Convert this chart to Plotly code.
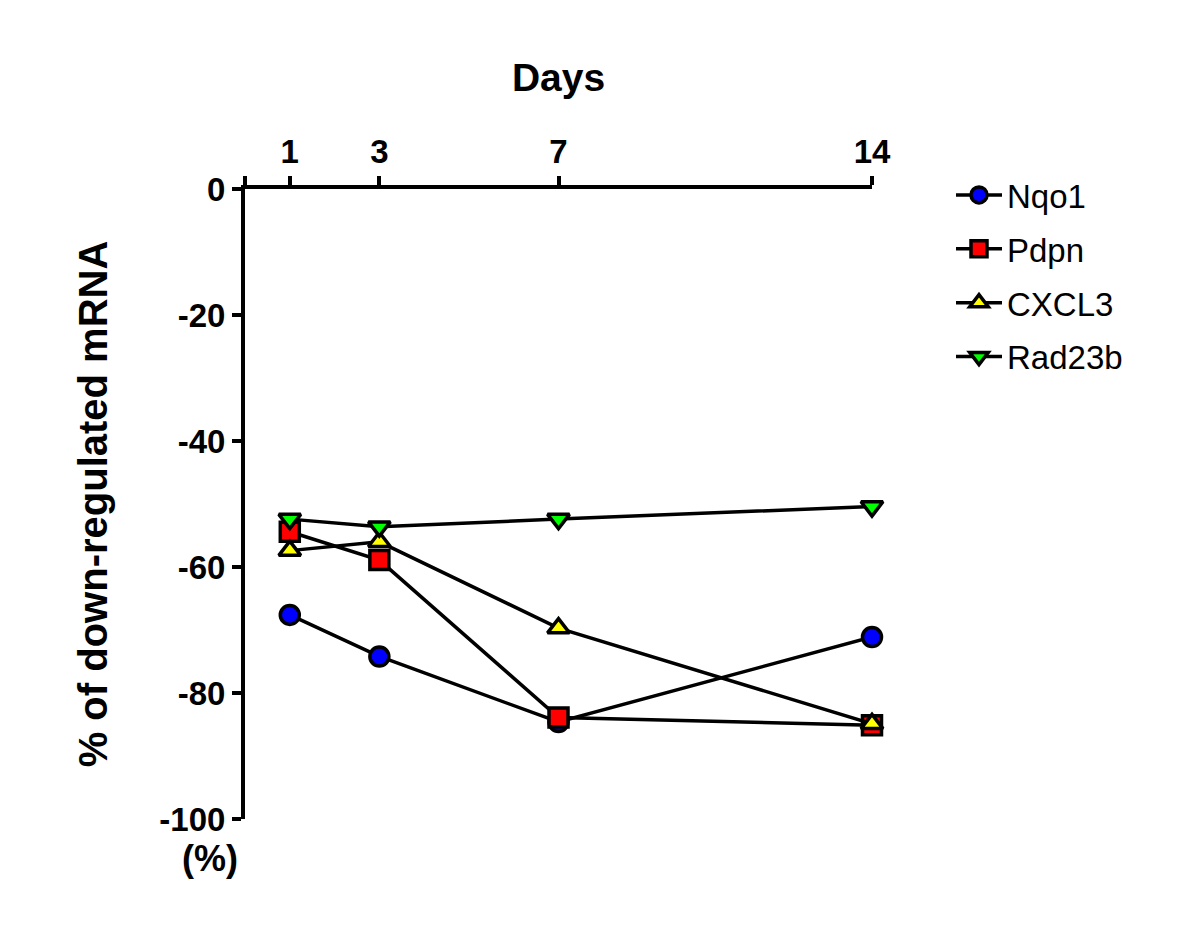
import plotly.graph_objects as go

days = [1, 3, 7, 14]
nqo1 = [-67.6, -74.2, -84.6, -71.1]
pdpn = [-54.4, -58.9, -83.9, -85.1]
cxcl3 = [-57.4, -56.0, -69.7, -84.9]
rad23b = [-52.4, -53.6, -52.4, -50.4]

series = [
    ("Nqo1", nqo1, "circle", "#0000ff"),
    ("Pdpn", pdpn, "square", "#ff0000"),
    ("CXCL3", cxcl3, "triangle-up", "#ffff00"),
    ("Rad23b", rad23b, "triangle-down", "#00ff00"),
]

x_ticks = [0, 1, 3, 7, 14]
x_labels = ["", "1", "3", "7", "14"]
y_ticks = [0, -20, -40, -60, -80, -100]
y_labels = ["0", "-20", "-40", "-60", "-80", "-100"]

fig = go.Figure()
for name, vals, sym, col in series:
    fig.add_trace(go.Scatter(
        x=days, y=vals, name=name, mode="lines+markers", legendgroup=name,
        line=dict(color="black", width=3.5),
        marker=dict(symbol=sym, size=19, color=col,
                    line=dict(color="black", width=3.5)),
        cliponaxis=False,
    ))

font = "Liberation Sans, Arial, sans-serif"
fig.update_layout(
    width=1200, height=933,
    paper_bgcolor="white", plot_bgcolor="white",
    margin=dict(l=237, r=336, t=181, b=122),
    font=dict(family=font, color="black"),
    showlegend=True,
    legend=dict(x=1.126, y=1.035, xanchor="left", yanchor="top",
                font=dict(size=33, family=font, color="black"),
                tracegroupgap=8, itemwidth=46,
                bgcolor="rgba(0,0,0,0)"),
    xaxis=dict(
        side="top", range=[0, 14], tickvals=x_ticks, ticktext=x_labels,
        showgrid=False, zeroline=False, showline=True, linecolor="black",
        linewidth=4, ticks="outside", ticklen=9, tickwidth=4, tickcolor="black",
        tickfont=dict(size=33, family=font, color="black", weight="bold"),
        title=dict(text="<b>Days</b>", font=dict(size=39, family=font, color="black"),
                   standoff=30),
    ),
    yaxis=dict(
        range=[-100, 0], tickvals=y_ticks, ticktext=y_labels,
        showgrid=False, zeroline=False, showline=True, linecolor="black",
        linewidth=4, ticks="outside", ticklen=9, tickwidth=4, tickcolor="black",
        tickfont=dict(size=33, family=font, color="black", weight="bold"),
        title=dict(text="<b>% of down-regulated mRNA</b>",
                   font=dict(size=40, family=font, color="black"), standoff=40),
    ),
)
fig.add_annotation(
    text="<b>(%)</b>", xref="paper", yref="paper", x=-0.056, y=-0.062,
    xanchor="center", yanchor="middle", showarrow=False,
    font=dict(size=36, family=font, color="black"),
)

fig.write_html("out.html")
